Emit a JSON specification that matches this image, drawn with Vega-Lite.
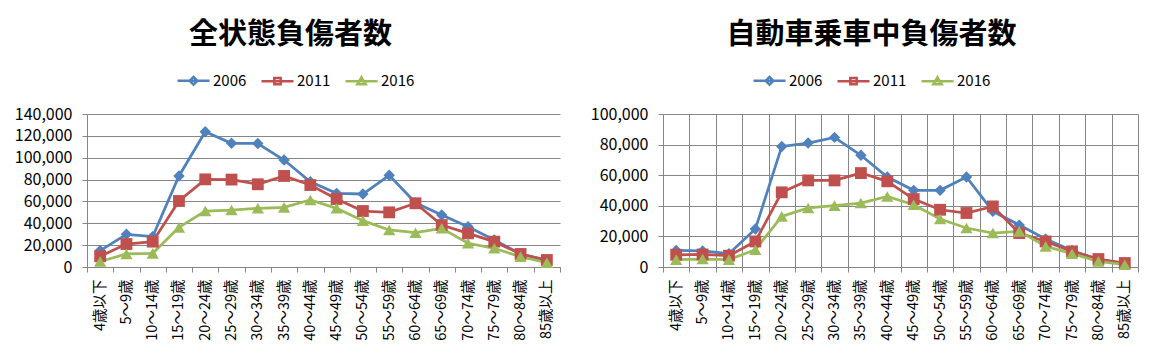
{
  "$schema": "https://vega.github.io/schema/vega-lite/v6.json",
  "background": "white",
  "padding": {"left": 14, "top": 21, "right": 5, "bottom": 5},
  "config": {
    "font": "Noto Sans CJK JP",
    "view": {"stroke": null},
    "concat": {"spacing": 29},
    "axis": {
      "domainColor": "#868686",
      "tickColor": "#868686",
      "gridColor": "#868686",
      "gridWidth": 1,
      "domainWidth": 1,
      "tickSize": 5,
      "labelColor": "black",
      "labelFont": "Noto Sans CJK JP"
    },
    "legend": {
      "orient": "none",
      "direction": "horizontal",
      "title": null,
      "labelFontSize": 15,
      "labelColor": "black",
      "labelFont": "Noto Sans CJK JP",
      "symbolSize": 1024,
      "symbolStrokeWidth": 2.5,
      "labelOffset": 2,
      "columnPadding": 9
    },
    "title": {"font": "Noto Sans CJK JP", "fontSize": 29, "fontWeight": "bold", "color": "black", "frame": "group", "anchor": "middle"}
  },
  "datasets": {
    "all": [
      {"age": "4歳以下", "2006": 15000, "2011": 9800, "2016": 5000},
      {"age": "5～9歳", "2006": 29900, "2011": 21000, "2016": 11900},
      {"age": "10～14歳", "2006": 27800, "2011": 23200, "2016": 12500},
      {"age": "15～19歳", "2006": 83300, "2011": 60400, "2016": 36300},
      {"age": "20～24歳", "2006": 123800, "2011": 80200, "2016": 51200},
      {"age": "25～29歳", "2006": 113200, "2011": 80000, "2016": 52100},
      {"age": "30～34歳", "2006": 113000, "2011": 75700, "2016": 53700},
      {"age": "35～39歳", "2006": 97900, "2011": 83300, "2016": 54600},
      {"age": "40～44歳", "2006": 78000, "2011": 75000, "2016": 61300},
      {"age": "45～49歳", "2006": 67400, "2011": 62200, "2016": 53700},
      {"age": "50～54歳", "2006": 66800, "2011": 51200, "2016": 42400},
      {"age": "55～59歳", "2006": 83900, "2011": 50000, "2016": 33900},
      {"age": "60～64歳", "2006": 58800, "2011": 58300, "2016": 31400},
      {"age": "65～69歳", "2006": 47600, "2011": 38400, "2016": 35400},
      {"age": "70～74歳", "2006": 36900, "2011": 30800, "2016": 21700},
      {"age": "75～79歳", "2006": 24700, "2011": 23200, "2016": 17100},
      {"age": "80～84歳", "2006": 11900, "2011": 11900, "2016": 9400},
      {"age": "85歳以上", "2006": 5800, "2011": 6400, "2016": 3900}
    ],
    "car": [
      {"age": "4歳以下", "2006": 10800, "2011": 8000, "2016": 4800},
      {"age": "5～9歳", "2006": 10500, "2011": 8200, "2016": 5200},
      {"age": "10～14歳", "2006": 8700, "2011": 7400, "2016": 4800},
      {"age": "15～19歳", "2006": 24800, "2011": 16700, "2016": 11300},
      {"age": "20～24歳", "2006": 78800, "2011": 48800, "2016": 33100},
      {"age": "25～29歳", "2006": 81000, "2011": 56600, "2016": 38600},
      {"age": "30～34歳", "2006": 84700, "2011": 56600, "2016": 40100},
      {"age": "35～39歳", "2006": 73000, "2011": 61400, "2016": 41800},
      {"age": "40～44歳", "2006": 58800, "2011": 56000, "2016": 46100},
      {"age": "45～49歳", "2006": 50100, "2011": 44400, "2016": 40700},
      {"age": "50～54歳", "2006": 50100, "2011": 37400, "2016": 31400},
      {"age": "55～59歳", "2006": 58800, "2011": 35300, "2016": 25500},
      {"age": "60～64歳", "2006": 36400, "2011": 39600, "2016": 22200},
      {"age": "65～69歳", "2006": 27400, "2011": 22200, "2016": 23300},
      {"age": "70～74歳", "2006": 18300, "2011": 16700, "2016": 13500},
      {"age": "75～79歳", "2006": 10800, "2011": 10200, "2016": 8700},
      {"age": "80～84歳", "2006": 4800, "2011": 5200, "2016": 3700},
      {"age": "85歳以上", "2006": 2200, "2011": 2600, "2016": 1500}
    ]
  },
  "resolve": {
    "scale": {"x": "independent", "y": "independent", "fill": "independent", "stroke": "independent", "shape": "independent"},
    "legend": {"fill": "independent", "stroke": "independent", "shape": "independent"}
  },
  "hconcat": [
    {
      "width": 473,
      "height": 153,
      "data": {"name": "all"},
      "transform": [{"fold": ["2006", "2011", "2016"], "as": ["year", "value"]}],
      "title": {"text": "全状態負傷者数", "dx": -33, "offset": 13},
      "encoding": {
        "x": {"field": "age", "type": "nominal", "sort": null,
          "scale": {"type": "band", "paddingInner": 0, "paddingOuter": 0},
          "axis": {"title": null, "labelAngle": -90, "tickBand": "extent", "grid": false, "labelFontSize": 14.5, "labelPadding": 7}},
        "y": {"field": "value", "type": "quantitative",
          "scale": {"domain": [0, 140000]},
          "axis": {"title": null, "values": [0, 20000, 40000, 60000, 80000, 100000, 120000, 140000], "format": ",.0f", "grid": true, "labelFontSize": 16, "labelPadding": 10}}
      },
      "layer": [
        {
          "mark": {"type": "line", "strokeWidth": 2.75},
          "encoding": {
            "stroke": {"field": "year", "type": "nominal",
              "scale": {"domain": ["2006", "2011", "2016"], "range": ["#4F81BD", "#C0504D", "#9BBB59"]},
              "legend": {"legendX": 89, "legendY": -51}}
          }
        },
        {
          "mark": {"type": "point", "opacity": 0, "filled": true},
          "encoding": {
            "fill": {"field": "year", "type": "nominal",
              "scale": {"domain": ["2006", "2011", "2016"], "range": ["#4F81BD", "#C0504D", "#9BBB59"]},
              "legend": {"legendX": 89, "legendY": -51}},
            "stroke": {"field": "year", "type": "nominal",
              "scale": {"domain": ["2006", "2011", "2016"], "range": ["#4F81BD", "#C0504D", "#9BBB59"]},
              "legend": {"legendX": 89, "legendY": -51}},
            "shape": {"field": "year", "type": "nominal",
              "scale": {"domain": ["2006", "2011", "2016"], "range": ["M-1,0H1M0,-0.24L0.24,0L0,0.24L-0.24,0Z", "M-1,0H1M-0.2,-0.2H0.2V0.2H-0.2Z", "M-1,0H1M0,-0.24L0.26,0.2H-0.26Z"]},
              "legend": {"legendX": 89, "legendY": -51}}
          }
        },
        {
          "transform": [{"filter": "datum.year == '2006'"}],
          "mark": {"type": "point", "shape": "diamond", "filled": true, "opacity": 1, "color": "#4F81BD", "size": 130}
        },
        {
          "transform": [{"filter": "datum.year == '2011'"}],
          "mark": {"type": "point", "shape": "square", "filled": true, "opacity": 1, "color": "#C0504D", "size": 140}
        },
        {
          "transform": [{"filter": "datum.year == '2016'"}],
          "mark": {"type": "point", "shape": "triangle-up", "filled": true, "opacity": 1, "color": "#9BBB59", "size": 150}
        }
      ]
    },
    {
      "width": 475,
      "height": 153,
      "data": {"name": "car"},
      "transform": [{"fold": ["2006", "2011", "2016"], "as": ["year", "value"]}],
      "title": {"text": "自動車乗車中負傷者数", "dx": -29, "offset": 13},
      "encoding": {
        "x": {"field": "age", "type": "nominal", "sort": null,
          "scale": {"type": "band", "paddingInner": 0, "paddingOuter": 0},
          "axis": {"title": null, "labelAngle": -90, "tickBand": "extent", "grid": true, "labelFontSize": 14.5, "labelPadding": 7}},
        "y": {"field": "value", "type": "quantitative",
          "scale": {"domain": [0, 100000]},
          "axis": {"title": null, "values": [0, 20000, 40000, 60000, 80000, 100000], "format": ",.0f", "grid": true, "labelFontSize": 16, "labelPadding": 10}}
      },
      "layer": [
        {
          "mark": {"type": "line", "strokeWidth": 2.75},
          "encoding": {
            "stroke": {"field": "year", "type": "nominal",
              "scale": {"domain": ["2006", "2011", "2016"], "range": ["#4F81BD", "#C0504D", "#9BBB59"]},
              "legend": {"legendX": 89, "legendY": -51}}
          }
        },
        {
          "mark": {"type": "point", "opacity": 0, "filled": true},
          "encoding": {
            "fill": {"field": "year", "type": "nominal",
              "scale": {"domain": ["2006", "2011", "2016"], "range": ["#4F81BD", "#C0504D", "#9BBB59"]},
              "legend": {"legendX": 89, "legendY": -51}},
            "stroke": {"field": "year", "type": "nominal",
              "scale": {"domain": ["2006", "2011", "2016"], "range": ["#4F81BD", "#C0504D", "#9BBB59"]},
              "legend": {"legendX": 89, "legendY": -51}},
            "shape": {"field": "year", "type": "nominal",
              "scale": {"domain": ["2006", "2011", "2016"], "range": ["M-1,0H1M0,-0.24L0.24,0L0,0.24L-0.24,0Z", "M-1,0H1M-0.2,-0.2H0.2V0.2H-0.2Z", "M-1,0H1M0,-0.24L0.26,0.2H-0.26Z"]},
              "legend": {"legendX": 89, "legendY": -51}}
          }
        },
        {
          "transform": [{"filter": "datum.year == '2006'"}],
          "mark": {"type": "point", "shape": "diamond", "filled": true, "opacity": 1, "color": "#4F81BD", "size": 130}
        },
        {
          "transform": [{"filter": "datum.year == '2011'"}],
          "mark": {"type": "point", "shape": "square", "filled": true, "opacity": 1, "color": "#C0504D", "size": 140}
        },
        {
          "transform": [{"filter": "datum.year == '2016'"}],
          "mark": {"type": "point", "shape": "triangle-up", "filled": true, "opacity": 1, "color": "#9BBB59", "size": 150}
        }
      ]
    }
  ]
}
